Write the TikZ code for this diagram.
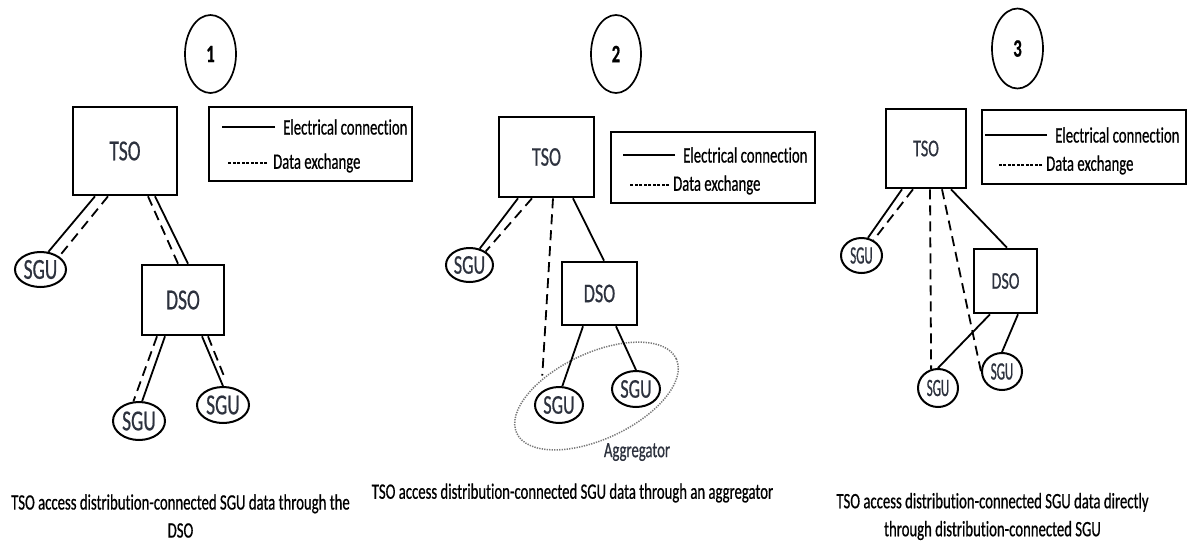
\documentclass[tikz,border=0pt]{standalone}
\usepackage{fontspec}
\setmainfont{Carlito}[FakeStretch=0.67,FakeBold=0.6,Ligatures=NoCommon]
\newfontfamily\slimfont{Carlito}[FakeStretch=0.52,FakeBold=0.6,Ligatures=NoCommon]
\usetikzlibrary{shapes.geometric}
\definecolor{inkgray}{RGB}{45,50,62}
\definecolor{agggray}{RGB}{120,120,120}

\begin{document}
\begin{tikzpicture}[x=1pt,y=-1pt,
    box/.style={draw, rectangle, line width=2.6pt, inner sep=0pt, text=inkgray},
    sgu/.style={draw, ellipse, line width=2pt, inner sep=0pt, text=inkgray},
    num/.style={draw, ellipse, line width=1.7pt, inner sep=0pt,
      font=\fontsize{25}{28}\selectfont\bfseries},
    legbox/.style={draw, rectangle, line width=1.6pt, inner sep=0pt},
    legtext/.style={anchor=west, inner sep=0pt, font=\fontsize{22}{26}\selectfont},
    caption/.style={align=center, inner sep=0pt, font=\fontsize{22}{28}\selectfont},
    elec/.style={line width=1.8pt},
    data/.style={line width=1.8pt, dash pattern=on 10pt off 6pt},
    legelec/.style={line width=1.9pt},
    legdata/.style={line width=1.5pt, dash pattern=on 3pt off 1.5pt},
    bigtext/.style={font=\fontsize{29}{34}\selectfont},
    midtext/.style={font=\fontsize{27}{32}\selectfont},
    smalltext/.style={font=\fontsize{24}{28}\selectfont},
    slimtext/.style={font=\slimfont\fontsize{25}{30}\selectfont}]
  \useasboundingbox (0,0) rectangle (1189,542);

  % case 1: through the DSO
  \node[num, minimum width=51pt, minimum height=78pt] (n1) at (210.5,54) {1};
  \node[box, bigtext, minimum width=104pt, minimum height=88pt] (tso1) at (125,151) {TSO};
  \node[box, bigtext, minimum width=82pt, minimum height=70pt] (dso1) at (183,300) {DSO};
  \node[sgu, bigtext, minimum width=51pt, minimum height=35pt] (sgu1l) at (40.5,269.5) {SGU};
  \node[sgu, bigtext, minimum width=52pt, minimum height=38pt] (sgu1a) at (139,421) {SGU};
  \node[sgu, bigtext, minimum width=52pt, minimum height=36pt] (sgu1b) at (223,405) {SGU};
  \path
  ([xshift=-30pt]tso1.south) edge[elec] (sgu1l.66)
  ([xshift=-17pt]tso1.south) edge[data] (sgu1l.35);
  \path
  ([xshift=30pt]tso1.south) edge[elec] ([xshift=5pt]dso1.north)
  ([xshift=23pt]tso1.south) edge[data] ([xshift=-5pt]dso1.north);
  \path
  ([xshift=-18pt]dso1.south) edge[elec] (sgu1a.81)
  ([xshift=-26pt]dso1.south) edge[data] (sgu1a.106);
  \path
  ([xshift=19pt]dso1.south) edge[elec] (sgu1b.north)
  ([xshift=25pt]dso1.south) edge[data, shorten >=12pt] ([xshift=5pt]sgu1b.north);
  \node[legbox, minimum width=203pt, minimum height=74pt] (leg1) at (310.5,144) {};
  \node[legtext] (el1) at (283,127) {Electrical connection};
  \node[legtext] (de1) at (273,163) {Data exchange};
  \draw[legelec] ([xshift=-8pt]el1.west) -- ++(-53,0);
  \draw[legdata] ([xshift=-6pt]de1.west) -- ++(-39,0);
  \node[caption] (cap1) at (180.5,516) {TSO access distribution-connected SGU data through the\\DSO};

  % case 2: through an aggregator
  \node[draw=agggray, ellipse, line width=1.5pt, dash pattern=on 1.3pt off 1.2pt,
    minimum width=176pt, minimum height=86pt, rotate=25] (agg) at (596.5,396) {};
  \node[inner sep=0pt, text=inkgray, font=\fontsize{22}{26}\selectfont] (agglabel) at (637,452) {Aggregator};
  \node[num, minimum width=50pt, minimum height=78pt] (n2) at (616,54) {2};
  \node[box, midtext, minimum width=95pt, minimum height=80pt] (tso2) at (546.5,157) {TSO};
  \node[box, midtext, minimum width=75pt, minimum height=63pt] (dso2) at (599.5,293.5) {DSO};
  \node[sgu, midtext, minimum width=47pt, minimum height=34pt] (sgu2l) at (469.5,265) {SGU};
  \node[sgu, midtext, minimum width=48pt, minimum height=36pt] (sgu2a) at (559,405) {SGU};
  \node[sgu, midtext, minimum width=48pt, minimum height=36pt] (sgu2b) at (636,389) {SGU};
  \path
  ([xshift=-28.5pt]tso2.south) edge[elec] (sgu2l.58)
  ([xshift=-14.5pt]tso2.south) edge[data] (sgu2l.40);
  \path
  ([xshift=6.5pt]tso2.south) edge[data, shorten >=16pt] (sgu2a.north west)
  ([xshift=26.5pt]tso2.south) edge[elec] ([xshift=4.5pt]dso2.north);
  \path
  ([xshift=-16.5pt]dso2.south) edge[elec] (sgu2a.80)
  ([xshift=16.5pt]dso2.south) edge[elec] (sgu2b.north);
  \node[legbox, minimum width=204pt, minimum height=71pt] (leg2) at (713,167.5) {};
  \node[legtext] (el2) at (683,155) {Electrical connection};
  \node[legtext] (de2) at (673,185) {Data exchange};
  \draw[legelec] ([xshift=-8pt]el2.west) -- ++(-52,0);
  \draw[legdata] ([xshift=-4pt]de2.west) -- ++(-40,0);
  \node[caption] (cap2) at (572.5,493) {TSO access distribution-connected SGU data through an aggregator};

  % case 3: directly
  \node[num, minimum width=51pt, minimum height=80pt] (n3) at (1017.5,48.5) {3};
  \node[box, smalltext, minimum width=80pt, minimum height=79pt] (tso3) at (926,148.5) {TSO};
  \node[box, smalltext, minimum width=63pt, minimum height=64pt] (dso3) at (1005.5,281) {DSO};
  \node[sgu, slimtext, minimum width=41pt, minimum height=35pt] (sgu3l) at (861.5,255.5) {SGU};
  \node[sgu, slimtext, minimum width=40pt, minimum height=38pt] (sgu3a) at (938,388) {SGU};
  \node[sgu, slimtext, minimum width=40pt, minimum height=37pt] (sgu3b) at (1002,371.5) {SGU};
  \path
  ([xshift=-24pt]tso3.south) edge[elec] (sgu3l.70)
  ([xshift=-13pt]tso3.south) edge[data] (sgu3l.52);
  \path
  ([xshift=4pt]tso3.south) edge[data] (sgu3a.110)
  ([xshift=16pt]tso3.south) edge[data] (sgu3b.west)
  ([xshift=25pt]tso3.south) edge[elec] ([xshift=1.5pt]dso3.north);
  \path
  ([xshift=-15.5pt]dso3.south) edge[elec] (sgu3a.north)
  ([xshift=12.5pt]dso3.south) edge[elec] (sgu3b.north);
  \node[legbox, minimum width=204pt, minimum height=74pt] (leg3) at (1084,147) {};
  \node[legtext] (el3) at (1055,135) {Electrical connection};
  \node[legtext] (de3) at (1046,165) {Data exchange};
  \draw[legelec] ([xshift=-8pt]el3.west) -- ++(-62,0);
  \draw[legdata] ([xshift=-4pt]de3.west) -- ++(-43,0);
  \node[caption] (cap3) at (992.5,516.5) {TSO access distribution-connected SGU data directly\\through distribution-connected SGU};
\end{tikzpicture}
\end{document}
